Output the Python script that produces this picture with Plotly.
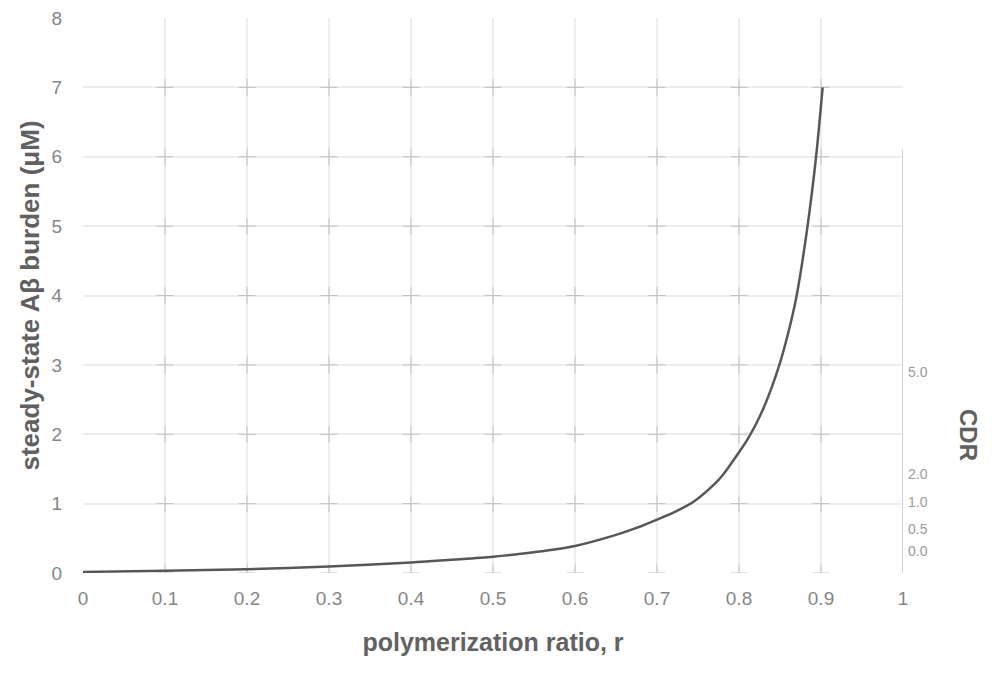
import plotly.graph_objects as go

# polymerization ratio r and steady-state A-beta burden (uM)
r_vals = [0.0, 0.1, 0.2, 0.3, 0.4, 0.45, 0.5, 0.55, 0.6, 0.65, 0.675, 0.7, 0.725, 0.745,
          0.77, 0.78, 0.79, 0.8, 0.81, 0.82, 0.83, 0.84, 0.85, 0.86, 0.87, 0.883, 0.894, 0.902]
burden = [0.015, 0.034, 0.053, 0.095, 0.15, 0.19, 0.234, 0.30, 0.39, 0.55, 0.65, 0.77, 0.90, 1.03,
          1.28, 1.41, 1.57, 1.74, 1.92, 2.13, 2.38, 2.68, 3.03, 3.46, 3.98, 4.95, 6.0, 7.0]

x_ticks = [0, 0.1, 0.2, 0.3, 0.4, 0.5, 0.6, 0.7, 0.8, 0.9, 1]
x_tick_labels = ["0", "0.1", "0.2", "0.3", "0.4", "0.5", "0.6", "0.7", "0.8", "0.9", "1"]
y_ticks = [0, 1, 2, 3, 4, 5, 6, 7, 8]

cdr_labels = ["0.0", "0.5", "1.0", "2.0", "5.0"]
cdr_positions = [0.32, 0.63, 1.02, 1.42, 2.9]
cdr_axis_top = 6.1

grid_x = [x for x in x_ticks if 0 < x < 1]
grid_y = [y for y in y_ticks if y < 8]
cx = [x for x in grid_x for y in grid_y]
cy = [y for x in grid_x for y in grid_y]

FONT = "Liberation Sans, Arial, sans-serif"

fig = go.Figure()

fig.add_trace(go.Scatter(x=cx, y=cy, mode="markers",
                         marker=dict(symbol="cross-thin", size=12,
                                     line=dict(color="#c2c2c2", width=1)),
                         hoverinfo="skip", showlegend=False))

fig.add_trace(go.Scatter(x=r_vals, y=burden, mode="lines",
                         line=dict(color="#575757", width=2.5, shape="spline", smoothing=0.8),
                         showlegend=False))

# invisible trace to host the CDR axis
fig.add_trace(go.Scatter(x=[1], y=[0], yaxis="y2", mode="markers",
                         marker=dict(opacity=0), hoverinfo="skip", showlegend=False))

fig.add_shape(type="line", x0=1, x1=1, y0=0, y1=cdr_axis_top, xref="x", yref="y",
              line=dict(color="#d2d2d2", width=2))

tick_font = dict(family=FONT, size=19, color="#858585")

# page body has an 8px margin; figure placed so the plot spans x 83..903, y 18..573
W, H = 984, 665
L, R, T, B = 75, 89, 10, 100

fig.update_layout(
    width=W, height=H,
    margin=dict(l=L, r=R, t=T, b=B, autoexpand=False),
    paper_bgcolor="white", plot_bgcolor="white",
    xaxis=dict(range=[0, 1], tickvals=x_ticks, ticktext=x_tick_labels, automargin=False,
               showgrid=True, gridcolor="#ededed", gridwidth=1.5,
               zeroline=False, showline=False, ticks="", tickfont=tick_font,
               ticklabelstandoff=12,
               title=dict(text="<b>polymerization ratio, r</b>",
                          font=dict(family=FONT, size=25, color="#626262"), standoff=25)),
    yaxis=dict(range=[0, 8], tickvals=y_ticks, showgrid=True, gridcolor="#ededed",
               gridwidth=1.5, zeroline=False, showline=False, ticks="", automargin=False,
               tickfont=tick_font, ticklabelstandoff=20, ticklabeloverflow="allow",
               title=dict(text="<b>steady-state Aβ burden (μM)</b>",
                          font=dict(family=FONT, size=26, color="#606060"), standoff=4)),
    yaxis2=dict(range=[0, 8], overlaying="y", side="right", anchor="x", automargin=False,
                tickvals=cdr_positions, ticktext=cdr_labels, showgrid=False,
                zeroline=False, showline=False, ticks="", ticklabelstandoff=4,
                tickfont=dict(family=FONT, size=14, color="#9a9a9a")),
)

plot_w = W - L - R
plot_h = H - T - B
fig.add_annotation(text="<b>CDR</b>", xref="paper", yref="paper",
                   x=(969 - 83) / plot_w, y=(573 - 435) / plot_h,
                   xanchor="center", yanchor="middle",
                   showarrow=False, textangle=90,
                   font=dict(family=FONT, size=24, color="#606060"))

fig.write_html("out.html")
